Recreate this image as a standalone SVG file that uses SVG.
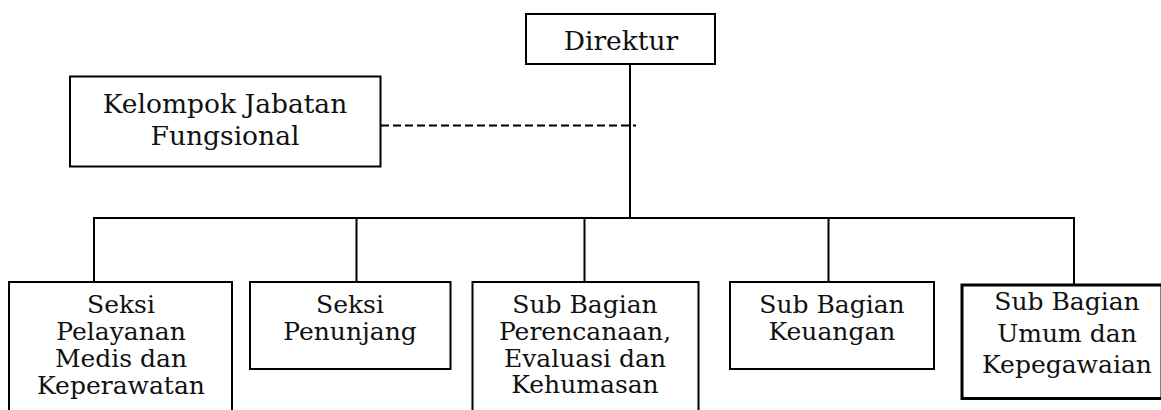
<svg xmlns="http://www.w3.org/2000/svg" width="1161" height="410" viewBox="0 0 1161 410">
<style>
.box{fill:#fff;stroke:#000;stroke-width:2}
.thick{stroke-width:3}
.t{font-family:"DejaVu Serif","Liberation Serif",serif;font-size:25px;fill:#111;text-anchor:middle}
.big{font-size:26.5px}
.ln{stroke:#000;stroke-width:2;fill:none}
.dash{stroke:#000;stroke-width:2;stroke-dasharray:8,4;fill:none}
</style>
<rect width="1161" height="410" fill="#fff"/>
<g id="connectors">
<line class="ln" x1="630" y1="64" x2="630" y2="218"/>
<line class="dash" x1="381" y1="125.5" x2="636" y2="125.5"/>
<polyline class="ln" points="94,282 94,218 1074,218 1074,285"/>
<line class="ln" x1="356.5" y1="218" x2="356.5" y2="282"/>
<line class="ln" x1="584.5" y1="218" x2="584.5" y2="282"/>
<line class="ln" x1="828.5" y1="218" x2="828.5" y2="282"/>
</g>
<g id="direktur">
<rect class="box" x="526" y="14" width="189" height="50"/>
<text class="t big" x="621" y="50">Direktur</text>
</g>
<g id="kelompok">
<rect class="box" x="70" y="76.5" width="310.5" height="90"/>
<text class="t big" x="225" y="113">Kelompok Jabatan</text>
<text class="t big" x="225" y="145">Fungsional</text>
</g>
<g id="seksi-pelayanan">
<rect class="box" x="9" y="282" width="223" height="140"/>
<text class="t" x="121" y="313">Seksi</text>
<text class="t" x="121" y="340">Pelayanan</text>
<text class="t" x="121" y="367">Medis dan</text>
<text class="t" x="121" y="394">Keperawatan</text>
</g>
<g id="seksi-penunjang">
<rect class="box" x="250" y="282" width="200.5" height="87"/>
<text class="t" x="350" y="313">Seksi</text>
<text class="t" x="350" y="340">Penunjang</text>
</g>
<g id="sub-perencanaan">
<rect class="box" x="472.5" y="282" width="226" height="140"/>
<text class="t" x="585" y="313">Sub Bagian</text>
<text class="t" x="585" y="340">Perencanaan,</text>
<text class="t" x="585" y="367">Evaluasi dan</text>
<text class="t" x="585" y="393">Kehumasan</text>
</g>
<g id="sub-keuangan">
<rect class="box" x="730" y="282" width="204" height="87"/>
<text class="t" x="832" y="313">Sub Bagian</text>
<text class="t" x="832" y="340">Keuangan</text>
</g>
<g id="sub-umum">
<rect class="box thick" x="962" y="285" width="200" height="113.5"/>
<text class="t" x="1067" y="310">Sub Bagian</text>
<text class="t" x="1067" y="342">Umum dan</text>
<text class="t" x="1067" y="373">Kepegawaian</text>
</g>
</svg>
